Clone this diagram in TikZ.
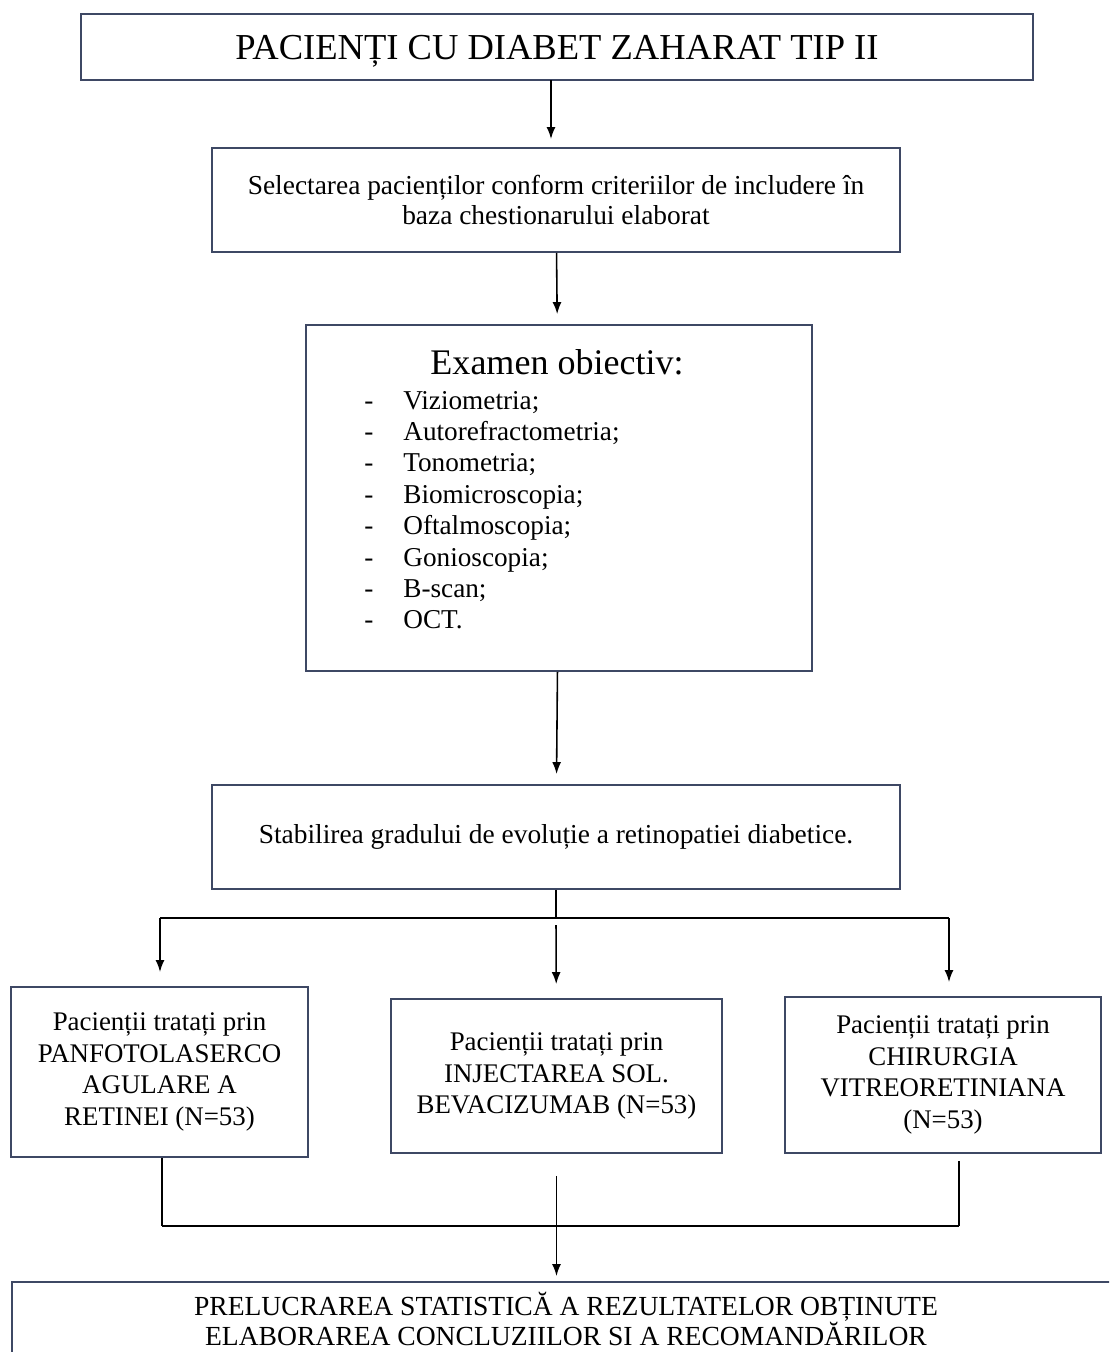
\documentclass[tikz,border=0pt]{standalone}
\usepackage{fontspec}
\setmainfont{Liberation Serif}
\usepackage{tikz}
\usetikzlibrary{arrows.meta}
\definecolor{boxblue}{RGB}{62,72,100}

\begin{document}
\begin{tikzpicture}[x=0.02cm, y=-0.02cm]
	\useasboundingbox (0,0) rectangle (1109,1352);
	\clip (0,0) rectangle (1109,1352);
	\begin{scope}[every node/.style = {draw=boxblue, line width=1.1pt, align=center, inner sep=0pt},
		box/.style = {font=\fontsize{15.6}{17.6}\selectfont},
		arm/.style = {font=\fontsize{15.3}{17.9}\selectfont}]
		\node[minimum width=19.04cm, minimum height=1.32cm, text depth=0pt, font=\fontsize{20.8}{26}\selectfont] (P) at (557,47) {PACIENȚI CU DIABET ZAHARAT TIP II};
		\node[box, minimum width=13.76cm, minimum height=2.08cm] (S) at (556,200) {Selectarea pacienților conform criteriilor de includere în\\baza chestionarului elaborat};
		\node[minimum width=10.12cm, minimum height=6.92cm] (E) at (559,498) {};
		\node[box, minimum width=13.76cm, minimum height=2.08cm] (B) at (556,837) {Stabilirea gradului de evoluție a retinopatiei diabetice.};
		\node[arm, minimum width=5.94cm, minimum height=3.4cm] (L) at (159.5,1072) {Pacienții tratați prin\\PANFOTOLASERCO\\AGULARE A\\RETINEI (N=53)};
		\node[arm, minimum width=6.62cm, minimum height=3.08cm] (M) at (556.5,1076) {Pacienții tratați prin\\INJECTAREA SOL.\\BEVACIZUMAB (N=53)};
		\node[arm, minimum width=6.32cm, minimum height=3.12cm] (R) at (943,1075) {Pacienții tratați prin\\CHIRURGIA\\VITREORETINIANA\\(N=53)};
		\node[minimum width=22.16cm, minimum height=1.48cm, font=\fontsize{15.7}{17.4}\selectfont] (F) at (566,1319) {PRELUCRAREA STATISTICĂ A REZULTATELOR OBȚINUTE\\ELABORAREA CONCLUZIILOR SI A RECOMANDĂRILOR};
	\end{scope}
	% examen obiectiv
	\node[anchor=base, inner sep=0pt, font=\fontsize{20.5}{24}\selectfont] (ET) at (557,374) {Examen obiectiv:};
	\foreach \t [count=\i] in {Viziometria;, Autorefractometria;, Tonometria;, Biomicroscopia;, Oftalmoscopia;, Gonioscopia;, B-scan;, OCT.} {
		\node[anchor=base west, inner sep=0pt, font=\fontsize{15.5}{18}\selectfont] (d\i) at (364,{377.6+31.4*\i}) {-};
		\node[anchor=base west, inner sep=0pt, font=\fontsize{15.5}{18}\selectfont] (it\i) at (403,{377.6+31.4*\i}) {\t};
	}
	\coordinate (split) at (556,918);
	\coordinate (lb) at (160,918);
	\coordinate (rb) at (949,918);
	\coordinate (lj) at (162,1226);
	\coordinate (rj) at (959,1226);
	\coordinate (top) at (551,80);
	\begin{scope}[>={Latex[length=0.24cm,width=0.18cm]},
			every edge/.style={draw=black, line width=0.9pt}]
		\path [->] (top) edge[shorten >=0.16cm] (top |- S.north);
		\path [->] (S) edge[shorten >=0.2cm] (E);
		\path [->] (E) edge[shorten >=0.2cm] (B);
		\path [->] (lb) edge[shorten >=0.28cm] (lb |- L.north);
		\path [->] (split) edge[shorten <=0.14cm, shorten >=0.28cm] (M);
		\path [->] (rb) edge[shorten >=0.28cm] (rb |- R.north);
		\path [->] (M.south) edge[shorten <=0.44cm, shorten >=0.1cm] (M.south |- F.north);
	\end{scope}
	\draw[line width=0.9pt] (B) -- (split);
	\draw[line width=1.4pt] (lb) -- (rb);
	\draw[line width=0.9pt] (L.south -| lj) -- (lj);
	\draw[line width=0.9pt, shorten <=0.14cm] (rj |- R.south) -- (rj);
	\draw[line width=1.4pt] (lj) -- (rj);

\end{tikzpicture}
\end{document}
